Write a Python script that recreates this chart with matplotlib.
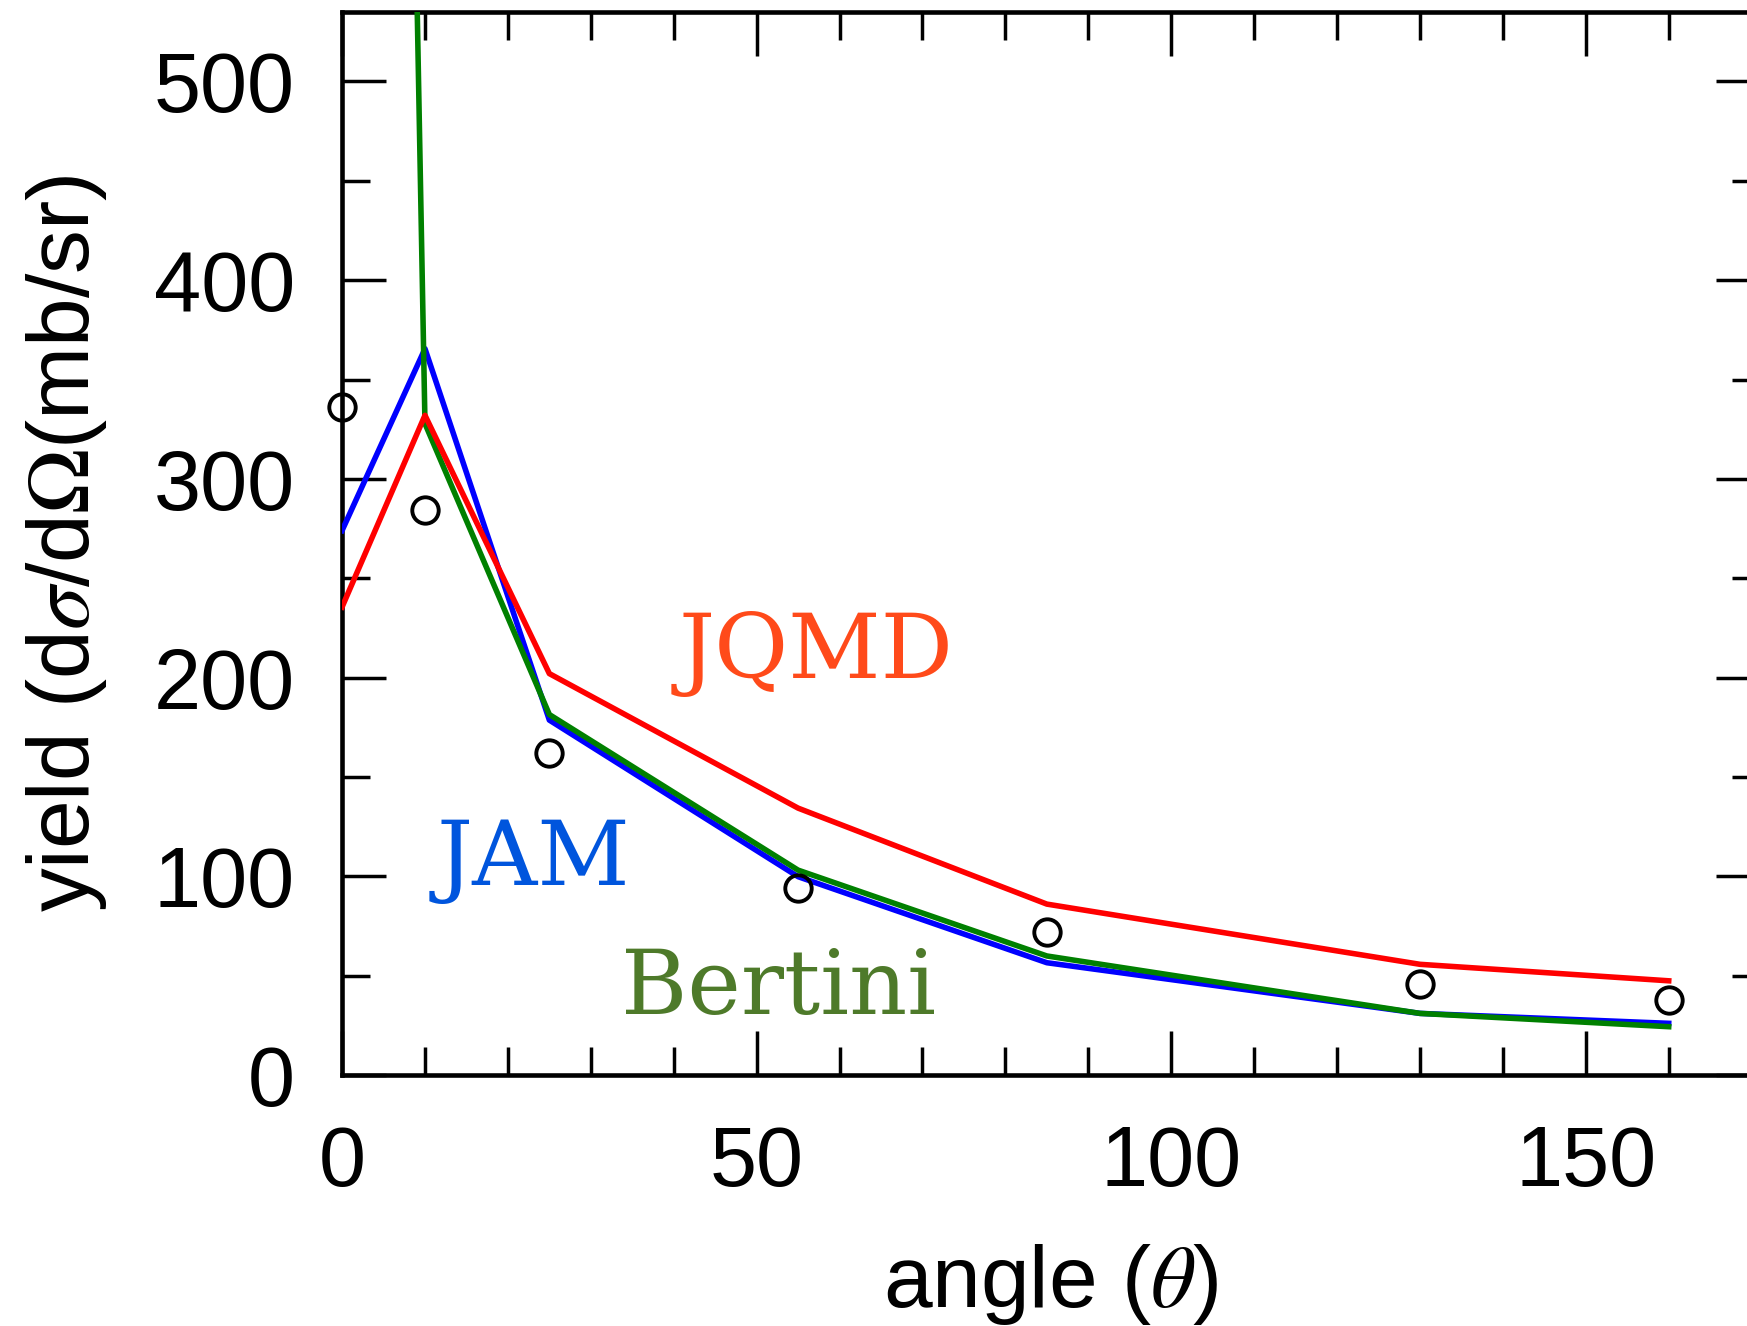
import numpy as np
import matplotlib
matplotlib.use("Agg")
import matplotlib.pyplot as plt
from matplotlib.ticker import MultipleLocator

# measured yields, mb/sr
angle_data = [0, 10, 25, 55, 85, 130, 160]
yield_data = [336, 284.5, 162, 94, 72, 46, 37.5]

# model curves
angle_model = [0, 10, 25, 55, 85, 130, 160]
jqmd = [235.5, 332, 202, 134.3, 86, 55.7, 47.4]
jam = [274, 365.5, 178.6, 99.8, 56.5, 31, 26]
bertini = [2550, 327.8, 181.4, 103.1, 59.9, 31, 24.3]

plt.rcParams["font.family"] = ["Liberation Sans", "DejaVu Sans"]
plt.rcParams["mathtext.fontset"] = "stix"

fig = plt.figure(figsize=(17.47, 13.26), dpi=100)
ax = fig.add_axes([0.1958, 0.1893, 1.0074 - 0.1958, 0.991 - 0.1893])

lw = 4.0
ax.plot(angle_model, jam, color="#0000ff", lw=lw, zorder=3)
ax.plot(angle_model, bertini, color="#008000", lw=lw, zorder=4)
ax.plot(angle_model, jqmd, color="#ff0000", lw=lw, zorder=5)
ax.plot(angle_data, yield_data, "o", ms=19, mfc="none", mec="black", mew=2.8,
        clip_on=False, zorder=6)

ax.text(40.6, 200, "JQMD", color="#ff4a1a", fontsize=65, family="DejaVu Serif")
ax.text(11.4, 95.6, "JAM", color="#0055dd", fontsize=65, family="DejaVu Serif")
ax.text(33.6, 30.7, "Bertini", color="#4e7a2a", fontsize=65, family="DejaVu Serif")

ax.set_xlim(0, 171)
ax.set_ylim(0, 535)
ax.xaxis.set_major_locator(MultipleLocator(50))
ax.xaxis.set_minor_locator(MultipleLocator(10))
ax.yaxis.set_major_locator(MultipleLocator(100))
ax.yaxis.set_minor_locator(MultipleLocator(50))

ax.tick_params(which="both", direction="in", top=True, right=True, width=2.5,
               labelsize=61)
ax.tick_params(which="major", length=32)
ax.tick_params(which="minor", length=20)
ax.tick_params(axis="x", which="major", pad=35)
ax.tick_params(axis="y", which="major", pad=34)
for s in ax.spines.values():
    s.set_linewidth(3.3)

ax.set_xlabel(r"angle ($\theta$)", fontsize=63, labelpad=28)
ax.set_ylabel(r"yield (d$\sigma$/d$\Omega$(mb/sr)", fontsize=63, labelpad=32)

fig.savefig("out.png", dpi=100)
